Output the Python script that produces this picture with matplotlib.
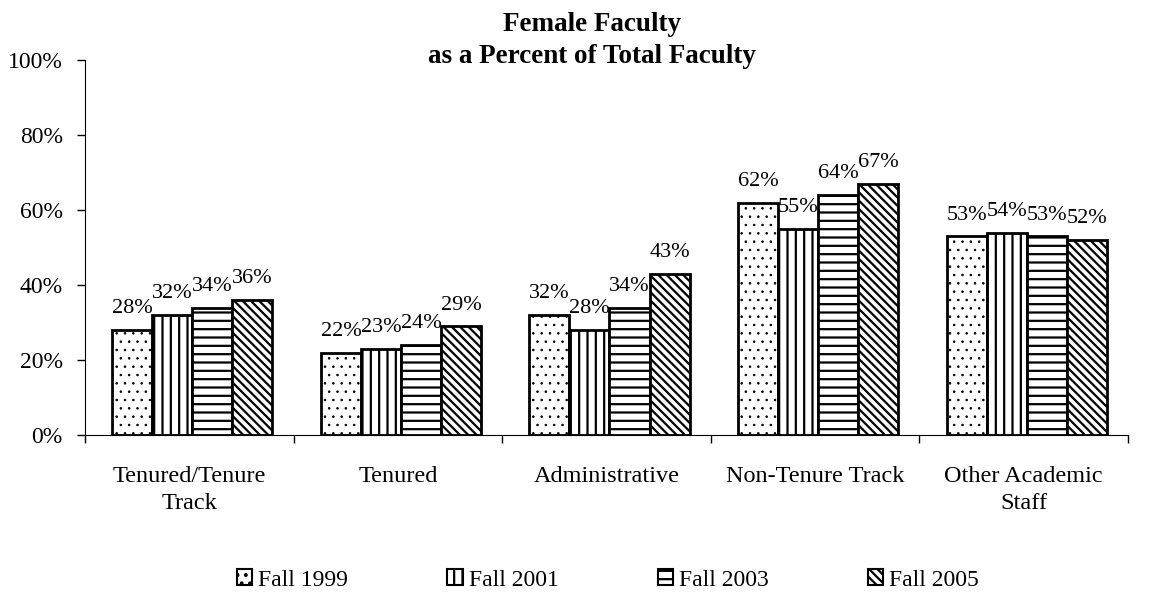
import matplotlib.pyplot as plt
import numpy as np

categories = ['Tenured/Tenure\nTrack', 'Tenured', 'Administrative', 'Non-Tenure Track', 'Other Academic\nStaff']
series = ['Fall 1999', 'Fall 2001', 'Fall 2003', 'Fall 2005']
fall1999 = [28, 22, 32, 62, 53]
fall2001 = [32, 23, 28, 55, 54]
fall2003 = [34, 24, 34, 64, 53]
fall2005 = [36, 29, 43, 67, 52]
values = [fall1999, fall2001, fall2003, fall2005]
hatches = ['..', '||', '--', '\\\\\\\\']
hatch_lw = [0.6, 1.6, 1.6, 1.6]

plt.rcParams['font.family'] = ['Liberation Serif', 'DejaVu Serif']

fig = plt.figure(figsize=(11.69, 6.01), dpi=100)
ax = fig.add_axes([0.0727, 0.276, 0.892, 0.624])

x = np.arange(len(categories))
w = 0.192
for i, (name, vals) in enumerate(zip(series, values)):
    plt.rcParams['hatch.linewidth'] = hatch_lw[i]
    pos = x + (i - 1.5) * w + 0.015
    bars = ax.bar(pos, vals, w, color='white', edgecolor='black', linewidth=2,
                  hatch=hatches[i], label=name)
    for b in bars:
        if hasattr(b, 'set_hatch_linewidth'):
            b.set_hatch_linewidth(hatch_lw[i])
    for p, v in zip(pos, vals):
        ax.annotate(f'{v}%', (p, v), xytext=(0, 12), textcoords='offset points',
                    ha='center', va='baseline', fontsize=16)

ax.set_xlim(-0.5, len(categories) - 0.5)
ax.set_ylim(0, 100)
ax.set_yticks(range(0, 101, 20))
ax.set_yticklabels([f'{t}%' for t in range(0, 101, 20)], fontsize=17)
ax.set_xticks(np.arange(-0.5, len(categories), 1))
ax.set_xticklabels([])
ax.set_xticks(x, minor=True)
ax.set_xticklabels(categories, minor=True, fontsize=17.5, linespacing=1.4)
ax.tick_params(axis='x', which='minor', length=0, pad=22)
ax.tick_params(axis='x', which='major', length=6, direction='out', width=1)
ax.tick_params(axis='y', length=6, direction='out', width=1, pad=10)
for s in ['top', 'right']:
    ax.spines[s].set_visible(False)

fig.text(0.506, 0.98, 'Female Faculty\nas a Percent of Total Faculty', fontsize=19.5,
         fontweight='bold', ha='center', va='top', linespacing=1.35)

leg = fig.legend(loc='center', bbox_to_anchor=(0.52, 0.035), ncol=4, frameon=False,
                 fontsize=17, handlelength=0.65, handleheight=0.65, handletextpad=0.25,
                 columnspacing=4.2)
for h in leg.legend_handles:
    h.set_linewidth(1.5)

fig.savefig('out.png', dpi=100)
